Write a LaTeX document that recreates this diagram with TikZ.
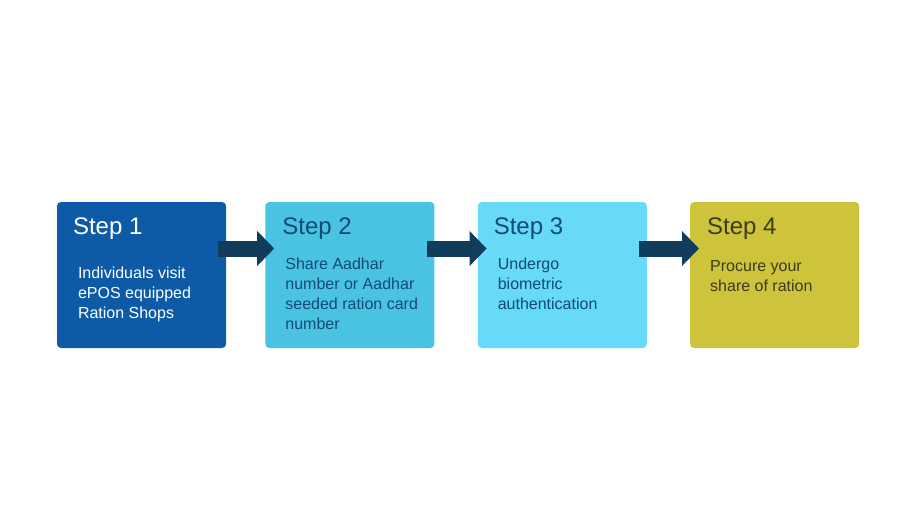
\documentclass[tikz,border=0pt]{standalone}
\usepackage{fontspec}
\setmainfont{Liberation Sans}
\usetikzlibrary{positioning, arrows.meta}

\definecolor{stepone}{HTML}{0D5BA6}
\definecolor{steptwo}{HTML}{4AC3E3}
\definecolor{stepthree}{HTML}{67DAF9}
\definecolor{stepfour}{HTML}{CDC43B}
\definecolor{navy}{HTML}{123C5C}
\definecolor{bluetext}{HTML}{114A75}
\definecolor{olivetext}{HTML}{3B3B1E}

\tikzset{
	stepbox/.style={rounded corners=4pt, minimum width=169pt, minimum height=146pt, inner sep=0pt},
	head/.style={anchor=base west, inner sep=0pt, font=\fontsize{24}{28}\selectfont},
	body/.style={anchor=north west, inner sep=0pt, align=left, font=\fontsize{16}{20}\selectfont},
	flow/.style={draw=navy, line width=16pt, -{Triangle[width=34pt, length=17pt]}, shorten <=-8pt, shorten >=-9pt}
}

\begin{document}
\begin{tikzpicture}[x=1pt, y=1pt]
	\useasboundingbox[fill=white] (0,0) rectangle (915,515);

	\node[stepbox, fill=stepone] (s1) at (141.5,240) {};
	\node[stepbox, fill=steptwo, right=39pt of s1] (s2) {};
	\node[stepbox, fill=stepthree, right=43pt of s2] (s3) {};
	\node[stepbox, fill=stepfour, right=43pt of s3] (s4) {};

	\node[head, text=white] (h1) at ([xshift=16pt, yshift=-33pt]s1.north west) {Step 1};
	\node[head, text=bluetext] (h2) at ([xshift=17pt, yshift=-33pt]s2.north west) {Step 2};
	\node[head, text=bluetext] (h3) at ([xshift=16pt, yshift=-33pt]s3.north west) {Step 3};
	\node[head, text=olivetext] (h4) at ([xshift=17pt, yshift=-33pt]s4.north west) {Step 4};

	\node[body, text=white] (b1) at ([xshift=21pt, yshift=-64.5pt]s1.north west) {Individuals visit\\ePOS equipped\\Ration Shops};
	\node[body, text=bluetext] (b2) at ([xshift=20pt, yshift=-55.5pt]s2.north west) {Share Aadhar\\number or Aadhar\\seeded ration card\\number};
	\node[body, text=bluetext] (b3) at ([xshift=20pt, yshift=-55.5pt]s3.north west) {Undergo\\biometric\\authentication};
	\node[body, text=olivetext] (b4) at ([xshift=20pt, yshift=-58.5pt]s4.north west) {Procure your\\share of ration};

	% arrows between the steps
	\draw[flow] ([yshift=26.5pt]s1.east) -- ([yshift=26.5pt]s2.west);
	\draw[flow] ([yshift=26.5pt]s2.east) -- ([yshift=26.5pt]s3.west);
	\draw[flow] ([yshift=26.5pt]s3.east) -- ([yshift=26.5pt]s4.west);
\end{tikzpicture}
\end{document}
